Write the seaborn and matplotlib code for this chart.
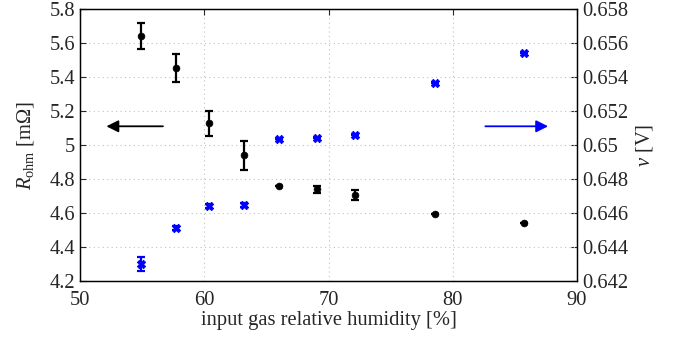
import numpy as np
import pandas as pd
import seaborn as sns
import matplotlib.pyplot as plt

sns.set_style("white")
plt.rcParams['font.family'] = ['Liberation Serif', 'DejaVu Serif']
plt.rcParams['mathtext.fontset'] = 'custom'
plt.rcParams['mathtext.rm'] = 'Liberation Serif'
plt.rcParams['mathtext.it'] = 'Liberation Serif:italic'

# relative humidity [%]
rh = [54.9, 57.7, 60.4, 63.2, 66.0, 69.1, 72.1, 78.6, 85.7]
# ohmic resistance [mOhm] and its error
r_ohm = [5.641, 5.453, 5.127, 4.939, 4.759, 4.739, 4.706, 4.596, 4.541]
r_err = [0.075, 0.085, 0.075, 0.085, 0.0, 0.02, 0.03, 0.0, 0.0]
# cell voltage [V] and its error
volt = [0.6430, 0.6451, 0.6464, 0.64647, 0.65037, 0.65043, 0.65059, 0.65367, 0.65541]
v_err = [0.0004, 0.00012, 0.00012, 0.00012, 0.0, 0.0, 0.0, 0.0, 0.0]

df = pd.DataFrame({"rh": rh, "r": r_ohm, "r_err": r_err, "v": volt, "v_err": v_err})

fig = plt.figure(figsize=(6.74, 3.39), dpi=100)
ax = fig.add_axes([80/674, 1-281/339, 497/674, 272/339])
ax2 = ax.twinx()

fs = 14.8
ax.errorbar(df["rh"], df["r"], yerr=df["r_err"], fmt='none', ecolor='black',
            elinewidth=1.6, capsize=3, capthick=1.6, zorder=3)
sns.scatterplot(data=df, x="rh", y="r", ax=ax, color='black', marker='o', s=24,
                edgecolor='black', linewidth=0.5, zorder=4)

ax2.errorbar(df["rh"], df["v"], yerr=df["v_err"], fmt='none', ecolor='blue',
             elinewidth=1.6, capsize=3, capthick=1.6, zorder=3)
sns.scatterplot(data=df, x="rh", y="v", ax=ax2, color='blue', marker='X', s=36,
                edgecolor='blue', linewidth=0.6, zorder=4)

ax.set_xlim(50, 90)
ax.set_ylim(4.2, 5.8)
ax2.set_ylim(0.642, 0.658)
ax.set_xticks([50, 60, 70, 80, 90])
yt = np.round(np.arange(4.2, 5.81, 0.2), 1)
ax.set_yticks(yt)
ax.set_yticklabels([f"{t:g}" for t in yt])
vt = np.round(np.arange(0.642, 0.6581, 0.002), 3)
ax2.set_yticks(vt)
ax2.set_yticklabels([f"{t:g}" for t in vt])

ax.grid(True, linestyle=(0, (1, 3)), color='#c0c0c0', linewidth=0.8)
for a in (ax, ax2):
    a.tick_params(direction='in', labelsize=fs, length=4, width=0.8, top=True)
    for sp in a.spines.values():
        sp.set_color('black')
        sp.set_linewidth(0.9)
ax.tick_params(axis='x', pad=7)
ax.tick_params(axis='y', right=False)
ax2.tick_params(axis='y', left=False)

ax.set_xlabel("input gas relative humidity [%]", fontsize=fs, labelpad=1)
ax.set_ylabel(r"$R_{\mathrm{ohm}}$ [m$\Omega$]", fontsize=fs, labelpad=10)
ax2.set_ylabel(r"$v$ [V]", fontsize=fs, rotation=90, labelpad=4)

ax.annotate("", xy=(51.9, 5.11), xytext=(56.9, 5.11),
            arrowprops=dict(arrowstyle='-|>', color='black', lw=1.3, mutation_scale=18))
ax.annotate("", xy=(87.9, 5.11), xytext=(82.4, 5.11),
            arrowprops=dict(arrowstyle='-|>', color='blue', lw=1.3, mutation_scale=18))

ax.set_zorder(ax2.get_zorder() + 1)
ax.patch.set_visible(False)

fig.savefig("out.png", dpi=100)
